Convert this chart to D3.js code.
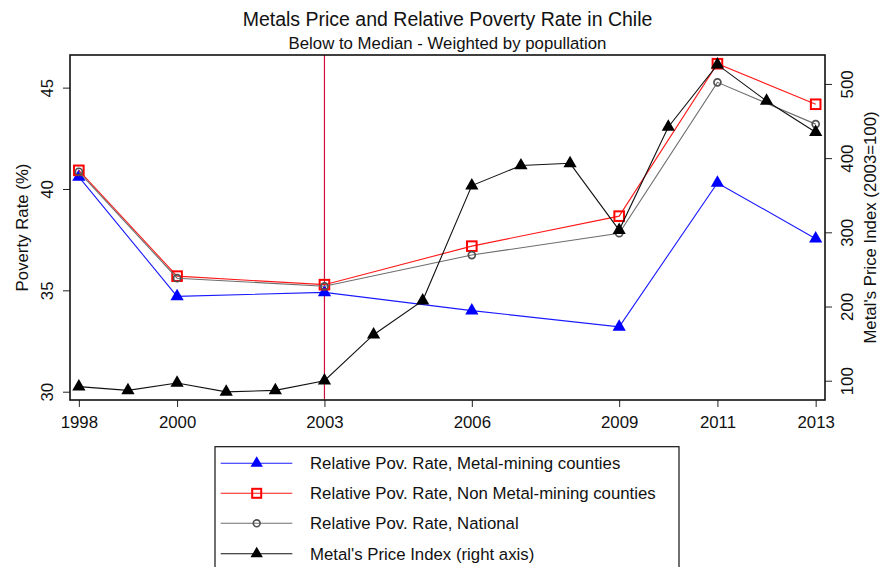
<!DOCTYPE html>
<html>
<head>
<meta charset="utf-8">
<script src="https://cdn.jsdelivr.net/npm/d3@7"></script>
<style>
  html, body { margin: 0; padding: 0; background: #fff; }
  svg { display: block; font-family: "Liberation Sans", Arial, sans-serif; }
</style>
</head>
<body>
<svg id="chart" width="881" height="567"></svg>
<script>
// Survey years with poverty rates (left axis, %)
const povertyYears = [1998, 2000, 2003, 2006, 2009, 2011, 2013];
const miningRate    = [40.6, 34.7, 34.9, 34.0, 33.2, 40.3, 37.55];
const nonMiningRate = [40.92, 35.7, 35.28, 37.18, 38.66, 46.18, 44.18];
const nationalRate  = [40.85, 35.6, 35.2, 36.74, 37.82, 45.26, 43.2];

// Yearly metals price index, 2003 = 100 (right axis)
const priceYears = [1998, 1999, 2000, 2001, 2002, 2003, 2004, 2005, 2006, 2007, 2008, 2009, 2010, 2011, 2012, 2013];
const priceIndex = [92, 87, 97, 85, 87, 100, 162, 208, 363, 390, 393, 303, 442, 526, 477, 435];

// Tick labels
const xTicks = [1998, 2000, 2003, 2006, 2009, 2011, 2013];
const leftTicks = [30, 35, 40, 45];
const rightTicks = [100, 200, 300, 400, 500];
const markerYear = 2003;

const legendLabels = [
  "Relative Pov. Rate, Metal-mining counties",
  "Relative Pov. Rate, Non Metal-mining counties",
  "Relative Pov. Rate, National",
  "Metal's Price Index (right axis)"
];

const svg = d3.select("#chart");
const plot = { left: 70, right: 825, top: 55, bottom: 400 };

const x = d3.scaleLinear().domain([1997.82, 2013.19]).range([plot.left, plot.right]);
const yL = d3.scaleLinear().domain([29.59, 46.61]).range([plot.bottom, plot.top]);
const yR = d3.scaleLinear().domain([74, 539]).range([plot.bottom, plot.top]);

svg.append("rect").attr("width", 881).attr("height", 567).attr("fill", "#fff");

// Titles
svg.append("text").attr("x", 447.5).attr("y", 26).attr("text-anchor", "middle")
  .attr("font-size", 19.5).attr("fill", "#111").text("Metals Price and Relative Poverty Rate in Chile");
svg.append("text").attr("x", 447.5).attr("y", 48.5).attr("text-anchor", "middle")
  .attr("font-size", 16.8).attr("fill", "#111").text("Below to Median - Weighted by popullation");

// Reference line at 2003
svg.append("line")
  .attr("x1", x(markerYear)).attr("x2", x(markerYear))
  .attr("y1", plot.top).attr("y2", plot.bottom)
  .attr("stroke", "#d0103a").attr("stroke-width", 1.2);

const tri = d3.symbol().type(d3.symbolTriangle).size(76);
const triSmall = d3.symbol().type(d3.symbolTriangle).size(66);

function drawSeries(xs, ys, yScale, color, width) {
  const line = d3.line().x((d, i) => x(xs[i])).y(d => yScale(d));
  svg.append("path").datum(ys).attr("d", line)
    .attr("fill", "none").attr("stroke", color).attr("stroke-width", width);
}

// Metal-mining counties: blue line, filled triangles
drawSeries(povertyYears, miningRate, yL, "#1a1aff", 1.1);
svg.append("g").selectAll("path").data(miningRate).join("path")
  .attr("d", tri)
  .attr("transform", (d, i) => `translate(${x(povertyYears[i])},${yL(d)})`)
  .attr("fill", "#0000ff");

// Non metal-mining counties: red line, open squares
drawSeries(povertyYears, nonMiningRate, yL, "#ff1a1a", 1.1);
svg.append("g").selectAll("rect").data(nonMiningRate).join("rect")
  .attr("x", (d, i) => x(povertyYears[i]) - 4.8)
  .attr("y", d => yL(d) - 4.8)
  .attr("width", 9.6).attr("height", 9.6)
  .attr("fill", "none").attr("stroke", "#ff0000").attr("stroke-width", 2);

// National: gray line, open circles
drawSeries(povertyYears, nationalRate, yL, "#6e6e6e", 1.1);
svg.append("g").selectAll("circle").data(nationalRate).join("circle")
  .attr("cx", (d, i) => x(povertyYears[i]))
  .attr("cy", d => yL(d))
  .attr("r", 3.5)
  .attr("fill", "none").attr("stroke", "#505050").attr("stroke-width", 1.7);

// Metals price index: black line, filled triangles (right axis)
drawSeries(priceYears, priceIndex, yR, "#111", 1.1);
svg.append("g").selectAll("path").data(priceIndex).join("path")
  .attr("d", tri)
  .attr("transform", (d, i) => `translate(${x(priceYears[i])},${yR(d)})`)
  .attr("fill", "#000");

// Axes
const fs = 16.8;
const gx = svg.append("g").attr("transform", `translate(0,${plot.bottom})`)
  .call(d3.axisBottom(x).tickValues(xTicks).tickFormat(d3.format("d")).tickSize(7).tickSizeOuter(0));
gx.select(".domain").remove();
gx.selectAll(".tick line").attr("stroke", "#222").attr("stroke-width", 1);
gx.selectAll(".tick text").attr("y", 27.7).attr("dy", null)
  .attr("font-size", fs).attr("font-family", "Liberation Sans, Arial, sans-serif").attr("fill", "#111");

const gl = svg.append("g").attr("transform", `translate(${plot.left},0)`)
  .call(d3.axisLeft(yL).tickValues(leftTicks).tickSize(7).tickSizeOuter(0));
gl.select(".domain").remove();
gl.selectAll(".tick line").attr("stroke", "#222");
gl.selectAll(".tick text").attr("x", null).attr("dy", null)
  .attr("transform", "translate(-17,0) rotate(-90)").attr("text-anchor", "middle")
  .attr("font-size", fs).attr("font-family", "Liberation Sans, Arial, sans-serif").attr("fill", "#111");

const gr = svg.append("g").attr("transform", `translate(${plot.right},0)`)
  .call(d3.axisRight(yR).tickValues(rightTicks).tickSize(7).tickSizeOuter(0));
gr.select(".domain").remove();
gr.selectAll(".tick line").attr("stroke", "#222");
gr.selectAll(".tick text").attr("x", null).attr("dy", null)
  .attr("transform", "translate(28,0) rotate(-90)").attr("text-anchor", "middle")
  .attr("font-size", fs).attr("font-family", "Liberation Sans, Arial, sans-serif").attr("fill", "#111");

// Plot frame
svg.append("rect")
  .attr("x", plot.left).attr("y", plot.top)
  .attr("width", plot.right - plot.left).attr("height", plot.bottom - plot.top)
  .attr("fill", "none").attr("stroke", "#111").attr("stroke-width", 1.6);

// Axis titles
const midY = (plot.top + plot.bottom) / 2;
svg.append("text").attr("transform", `translate(28,${midY}) rotate(-90)`)
  .attr("text-anchor", "middle").attr("font-size", fs).attr("fill", "#111").text("Poverty Rate (%)");
svg.append("text").attr("transform", `translate(876,${midY}) rotate(-90)`)
  .attr("text-anchor", "middle").attr("font-size", fs).attr("fill", "#111").text("Metal's Price Index (2003=100)");

// Legend
const legend = svg.append("g");
legend.append("rect").attr("x", 215).attr("y", 446.7).attr("width", 464).attr("height", 140)
  .attr("fill", "#fff").attr("stroke", "#111").attr("stroke-width", 1.2);
const rowY = [463.3, 493.3, 523.3, 553.8];
const legColors = ["#1a1aff", "#ff1a1a", "#6e6e6e", "#111"];
legendLabels.forEach((label, i) => {
  const yy = rowY[i];
  legend.append("line").attr("x1", 220.7).attr("x2", 292.3).attr("y1", yy).attr("y2", yy)
    .attr("stroke", legColors[i]).attr("stroke-width", 1.1);
  const mx = 256.7;
  if (i === 0 || i === 3) {
    legend.append("path").attr("d", triSmall).attr("transform", `translate(${mx},${yy})`)
      .attr("fill", i === 0 ? "#0000ff" : "#000");
  } else if (i === 1) {
    legend.append("rect").attr("x", mx - 4.5).attr("y", yy - 4.5).attr("width", 9).attr("height", 9)
      .attr("fill", "none").attr("stroke", "#ff0000").attr("stroke-width", 2);
  } else {
    legend.append("circle").attr("cx", mx).attr("cy", yy).attr("r", 3.4)
      .attr("fill", "none").attr("stroke", "#505050").attr("stroke-width", 1.6);
  }
  legend.append("text").attr("x", 310).attr("y", yy + 6).attr("font-size", fs).attr("fill", "#111").text(label);
});
</script>
</body>
</html>
